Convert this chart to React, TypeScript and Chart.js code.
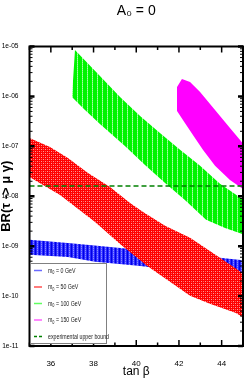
import React, { useEffect, useRef } from 'react';
import { Chart, registerables } from 'chart.js';

Chart.register(...registerables);

// ---- axis ticks ----
const xTickValues = [36, 38, 40, 42, 44];
const xTickLabels = ['36', '38', '40', '42', '44'];
const xMinorTickValues = [35, 36, 37, 38, 39, 40, 41, 42, 43, 44, 45];
const yTickValues = [1e-11, 1e-10, 1e-9, 1e-8, 1e-7, 1e-6, 1e-5];
const yTickLabels = ['1e-11', '1e-10', '1e-09', '1e-08', '1e-07', '1e-06', '1e-05'];

// ---- bands (polygon outlines: upper edge left->right, then lower edge right->left) ----
// m0 = 0 GeV
const blueBandX = [34.55, 35.0, 36.8, 38.3, 40.08, 42.05, 43.92, 45.33, 45.33, 43.92, 42.05, 40.08, 38.07, 36.8, 35.0, 34.55];
const blueBandY = [1.34e-9, 1.34e-9, 1.16e-9, 1.01e-9, 8.43e-10, 7.02e-10, 5.83e-10, 5.08e-10, 2.02e-10, 2.54e-10, 3.21e-10, 4.04e-10, 4.85e-10, 6.1e-10, 6.7e-10, 6.7e-10];
// m0 = 50 GeV
const redBandX = [34.55, 35.0, 35.96, 36.8, 37.74, 38.77, 39.71, 40.32, 41.35, 42.52, 43.92, 45.33, 45.33, 44.67, 43.45, 42.52, 41.58, 40.5, 39.24, 38.07, 36.43, 35.0, 34.55];
const redBandY = [1.77e-7, 1.47e-7, 9.73e-8, 5.86e-8, 2.93e-8, 1.54e-8, 7.36e-9, 4.86e-9, 2.55e-9, 1.47e-9, 5.83e-10, 2.32e-10, 3.0e-11, 4.6e-11, 7.0e-11, 1.01e-10, 1.93e-10, 4.03e-10, 1.11e-9, 3.06e-9, 1.06e-8, 2.44e-8, 3.07e-8];
// m0 = 100 GeV
const greenBandX = [37.13, 38.3, 39.24, 40.18, 41.11, 42.05, 42.99, 43.92, 45.09, 45.09, 44.16, 43.27, 42.28, 41.35, 40.41, 39.47, 38.3, 37.6, 36.99];
const greenBandY = [8.5e-6, 2.56e-6, 9.75e-7, 4.06e-7, 1.85e-7, 8.5e-8, 4.06e-8, 1.77e-8, 8.07e-9, 1.68e-9, 2.32e-9, 3.37e-9, 8.45e-9, 1.85e-8, 4.25e-8, 1.02e-7, 2.81e-7, 5.36e-7, 9.75e-7];
// m0 = 150 GeV
const magentaBandX = [41.91, 42.14, 42.52, 42.99, 43.69, 44.39, 45.33, 45.33, 44.39, 43.69, 43.13, 42.75, 42.28, 41.91];
const magentaBandY = [1.55e-6, 2.23e-6, 1.94e-6, 1.23e-6, 5.36e-7, 2.33e-7, 7.73e-8, 1.11e-8, 2.12e-8, 4.06e-8, 8.47e-8, 1.47e-7, 2.94e-7, 5.12e-7];
// experimental upper bound
const boundX = [35, 45];
const boundY = [1.6e-8, 1.6e-8];

const legendLabels = ['m_0 = 0 GeV', 'm_0 = 50 GeV', 'm_0 = 100 GeV', 'm_0 = 150 GeV', 'experimental upper bound'];
const legendColors = ['#6a6aff', '#ff5050', '#60ff60', '#ff60ff', '#008000'];

const SANS = "'Liberation Sans', Arial, sans-serif";

function pts(xs: number[], ys: number[]) {
  return xs.map((x, i) => ({ x, y: ys[i] }));
}

function makePattern(w: number, h: number, pix: (x: number, y: number) => string) {
  const c = document.createElement('canvas');
  c.width = w;
  c.height = h;
  const g = c.getContext('2d')!;
  for (let y = 0; y < h; y++) {
    for (let x = 0; x < w; x++) {
      g.fillStyle = pix(x, y);
      g.fillRect(x, y, 1, 1);
    }
  }
  return g.createPattern(c, 'repeat')!;
}

const framePlugin = {
  id: 'frameTicks',
  afterDatasetsDraw(chart: any) {
    const { ctx, chartArea: a, scales } = chart;
    const xs = scales.x;
    const ys = scales.y;
    ctx.save();
    ctx.strokeStyle = '#000';
    xMinorTickValues.forEach((v) => {
      const px = xs.getPixelForValue(v);
      const major = xTickValues.includes(v);
      const len = major ? 6 : 3.5;
      ctx.lineWidth = 1.5;
      ctx.beginPath();
      ctx.moveTo(px, a.bottom);
      ctx.lineTo(px, a.bottom - len);
      ctx.moveTo(px, a.top);
      ctx.lineTo(px, a.top + len);
      ctx.stroke();
    });
    yTickValues.forEach((dec, di) => {
      for (let m = 1; m <= 9; m++) {
        if (di === yTickValues.length - 1 && m > 1) break;
        const py = ys.getPixelForValue(dec * m);
        const major = m === 1;
        ctx.lineWidth = major ? 2.5 : 1;
        const len = major ? 5 : 3;
        ctx.beginPath();
        ctx.moveTo(a.left, py);
        ctx.lineTo(a.left + len, py);
        ctx.moveTo(a.right, py);
        ctx.lineTo(a.right - len, py);
        ctx.stroke();
      }
    });
    ctx.lineWidth = 2;
    ctx.strokeRect(a.left, a.top, a.right - a.left, a.bottom - a.top);
    ctx.restore();
  },
};

const legendPlugin = {
  id: 'boxLegend',
  afterDraw(chart: any) {
    const { ctx, chartArea: a } = chart;
    const left = a.left + 0.5;
    const top = a.bottom - 83;
    const w = 77;
    const h = 81;
    ctx.save();
    ctx.fillStyle = '#fff';
    ctx.fillRect(left, top, w, h);
    ctx.strokeStyle = '#808080';
    ctx.lineWidth = 1;
    ctx.strokeRect(left + 0.5, top + 0.5, w - 1, h - 1);
    legendLabels.forEach((label, i) => {
      const y = top + 7.5 + i * 16.5;
      ctx.strokeStyle = legendColors[i];
      ctx.lineWidth = 1.5;
      ctx.setLineDash(i === 4 ? [3, 2] : []);
      ctx.beginPath();
      ctx.moveTo(left + 4, y);
      ctx.lineTo(left + 12, y);
      ctx.stroke();
      ctx.setLineDash([]);
      ctx.save();
      ctx.translate(left + 18, y);
      ctx.scale(0.7, 1);
      ctx.fillStyle = '#222';
      ctx.textBaseline = 'middle';
      ctx.textAlign = 'left';
      let x = 0;
      const parts = label.split('_');
      ctx.font = `7.5px ${SANS}`;
      ctx.fillText(parts[0], x, 0);
      x += ctx.measureText(parts[0]).width;
      if (parts.length > 1) {
        const sub = parts[1].charAt(0);
        const rest = parts[1].slice(1);
        ctx.font = `5.5px ${SANS}`;
        ctx.fillText(sub, x, 2);
        x += ctx.measureText(sub).width;
        ctx.font = `7.5px ${SANS}`;
        ctx.fillText(rest, x, 0);
      }
      ctx.restore();
    });
    ctx.restore();
  },
};

export default function App() {
  const ref = useRef<HTMLCanvasElement>(null);
  useEffect(() => {
    document.body.style.margin = '0';
    const blueFill = makePattern(4, 2, (x, y) =>
      x === 1 ? (y === 0 ? '#8a8aff' : '#5050ff') : x === 3 ? '#0000e6' : '#2a2aff'
    );
    const redFill = makePattern(4, 4, (x, y) =>
      (x === 1 && y === 1) || (x === 3 && y === 3) ? '#ff9a9a' : (x === 1 && y === 3) || (x === 3 && y === 1) ? '#ff5a5a' : '#ff0000'
    );
    const greenFill = makePattern(5, 2, (x, y) => (x === 2 ? (y === 0 ? '#a8ffa8' : '#70ff70') : '#00f400'));
    const band = (label: string, xs: number[], ys: number[], bg: any) => ({
      label,
      data: pts(xs, ys),
      fill: 'shape',
      backgroundColor: bg,
      borderColor: 'rgba(0,0,0,0)',
      borderWidth: 0,
      pointRadius: 0,
      tension: 0,
    });
    const chart = new Chart(ref.current!, {
      type: 'line',
      data: {
        datasets: [
          {
            label: legendLabels[4],
            data: pts(boundX, boundY),
            borderColor: '#008000',
            borderWidth: 1.5,
            borderDash: [5, 3],
            fill: false,
            pointRadius: 0,
          },
          band(legendLabels[1], redBandX, redBandY, redFill),
          band(legendLabels[0], blueBandX, blueBandY, blueFill),
          band(legendLabels[2], greenBandX, greenBandY, greenFill),
          band(legendLabels[3], magentaBandX, magentaBandY, '#ff00ff'),
        ] as any,
      },
      options: {
        animation: false,
        responsive: false,
        devicePixelRatio: 1,
        events: [],
        layout: { padding: { left: 0, right: 2, top: 0, bottom: 0 } },
        plugins: {
          legend: { display: false },
          tooltip: { enabled: false },
          title: {
            display: true,
            text: 'A₀ = 0',
            color: '#000',
            font: { family: SANS, size: 14, weight: 'normal' },
            padding: { top: 3, bottom: 26.7 },
            fullSize: false,
          },
        },
        scales: {
          x: {
            type: 'linear',
            min: 35,
            max: 45,
            afterBuildTicks: (s: any) => {
              s.ticks = xTickValues.map((v) => ({ value: v }));
            },
            afterFit: (s: any) => {
              s.height = 36;
            },
            ticks: {
              callback: (_v: any, i: number) => xTickLabels[i],
              color: '#000',
              font: { family: SANS, size: 8 },
              padding: 5,
              maxRotation: 0,
              autoSkip: false,
            },
            grid: { display: false },
            border: { display: false },
            title: {
              display: true,
              text: 'tan β',
              color: '#000',
              font: { family: SANS, size: 12 },
              padding: { top: 0, bottom: 3.5 },
            },
          },
          y: {
            type: 'logarithmic',
            min: 1e-11,
            max: 1e-5,
            afterBuildTicks: (s: any) => {
              s.ticks = yTickValues.map((v) => ({ value: v }));
            },
            afterFit: (s: any) => {
              s.width = 29.5;
            },
            ticks: {
              callback: (_v: any, i: number) => yTickLabels[i],
              color: '#000',
              font: { family: SANS, size: 6.6 },
              padding: 3,
              autoSkip: false,
            },
            grid: { display: false },
            border: { display: false },
            title: {
              display: true,
              text: 'BR(τ -> μ γ)',
              color: '#000',
              font: { family: SANS, size: 13, weight: 'bold', lineHeight: 0.95 },
              padding: { top: 0, bottom: 0 },
            },
          },
        },
      } as any,
      plugins: [framePlugin, legendPlugin],
    });
    return () => chart.destroy();
  }, []);
  return <canvas ref={ref} width={245} height={382} style={{ display: 'block' }} />;
}
